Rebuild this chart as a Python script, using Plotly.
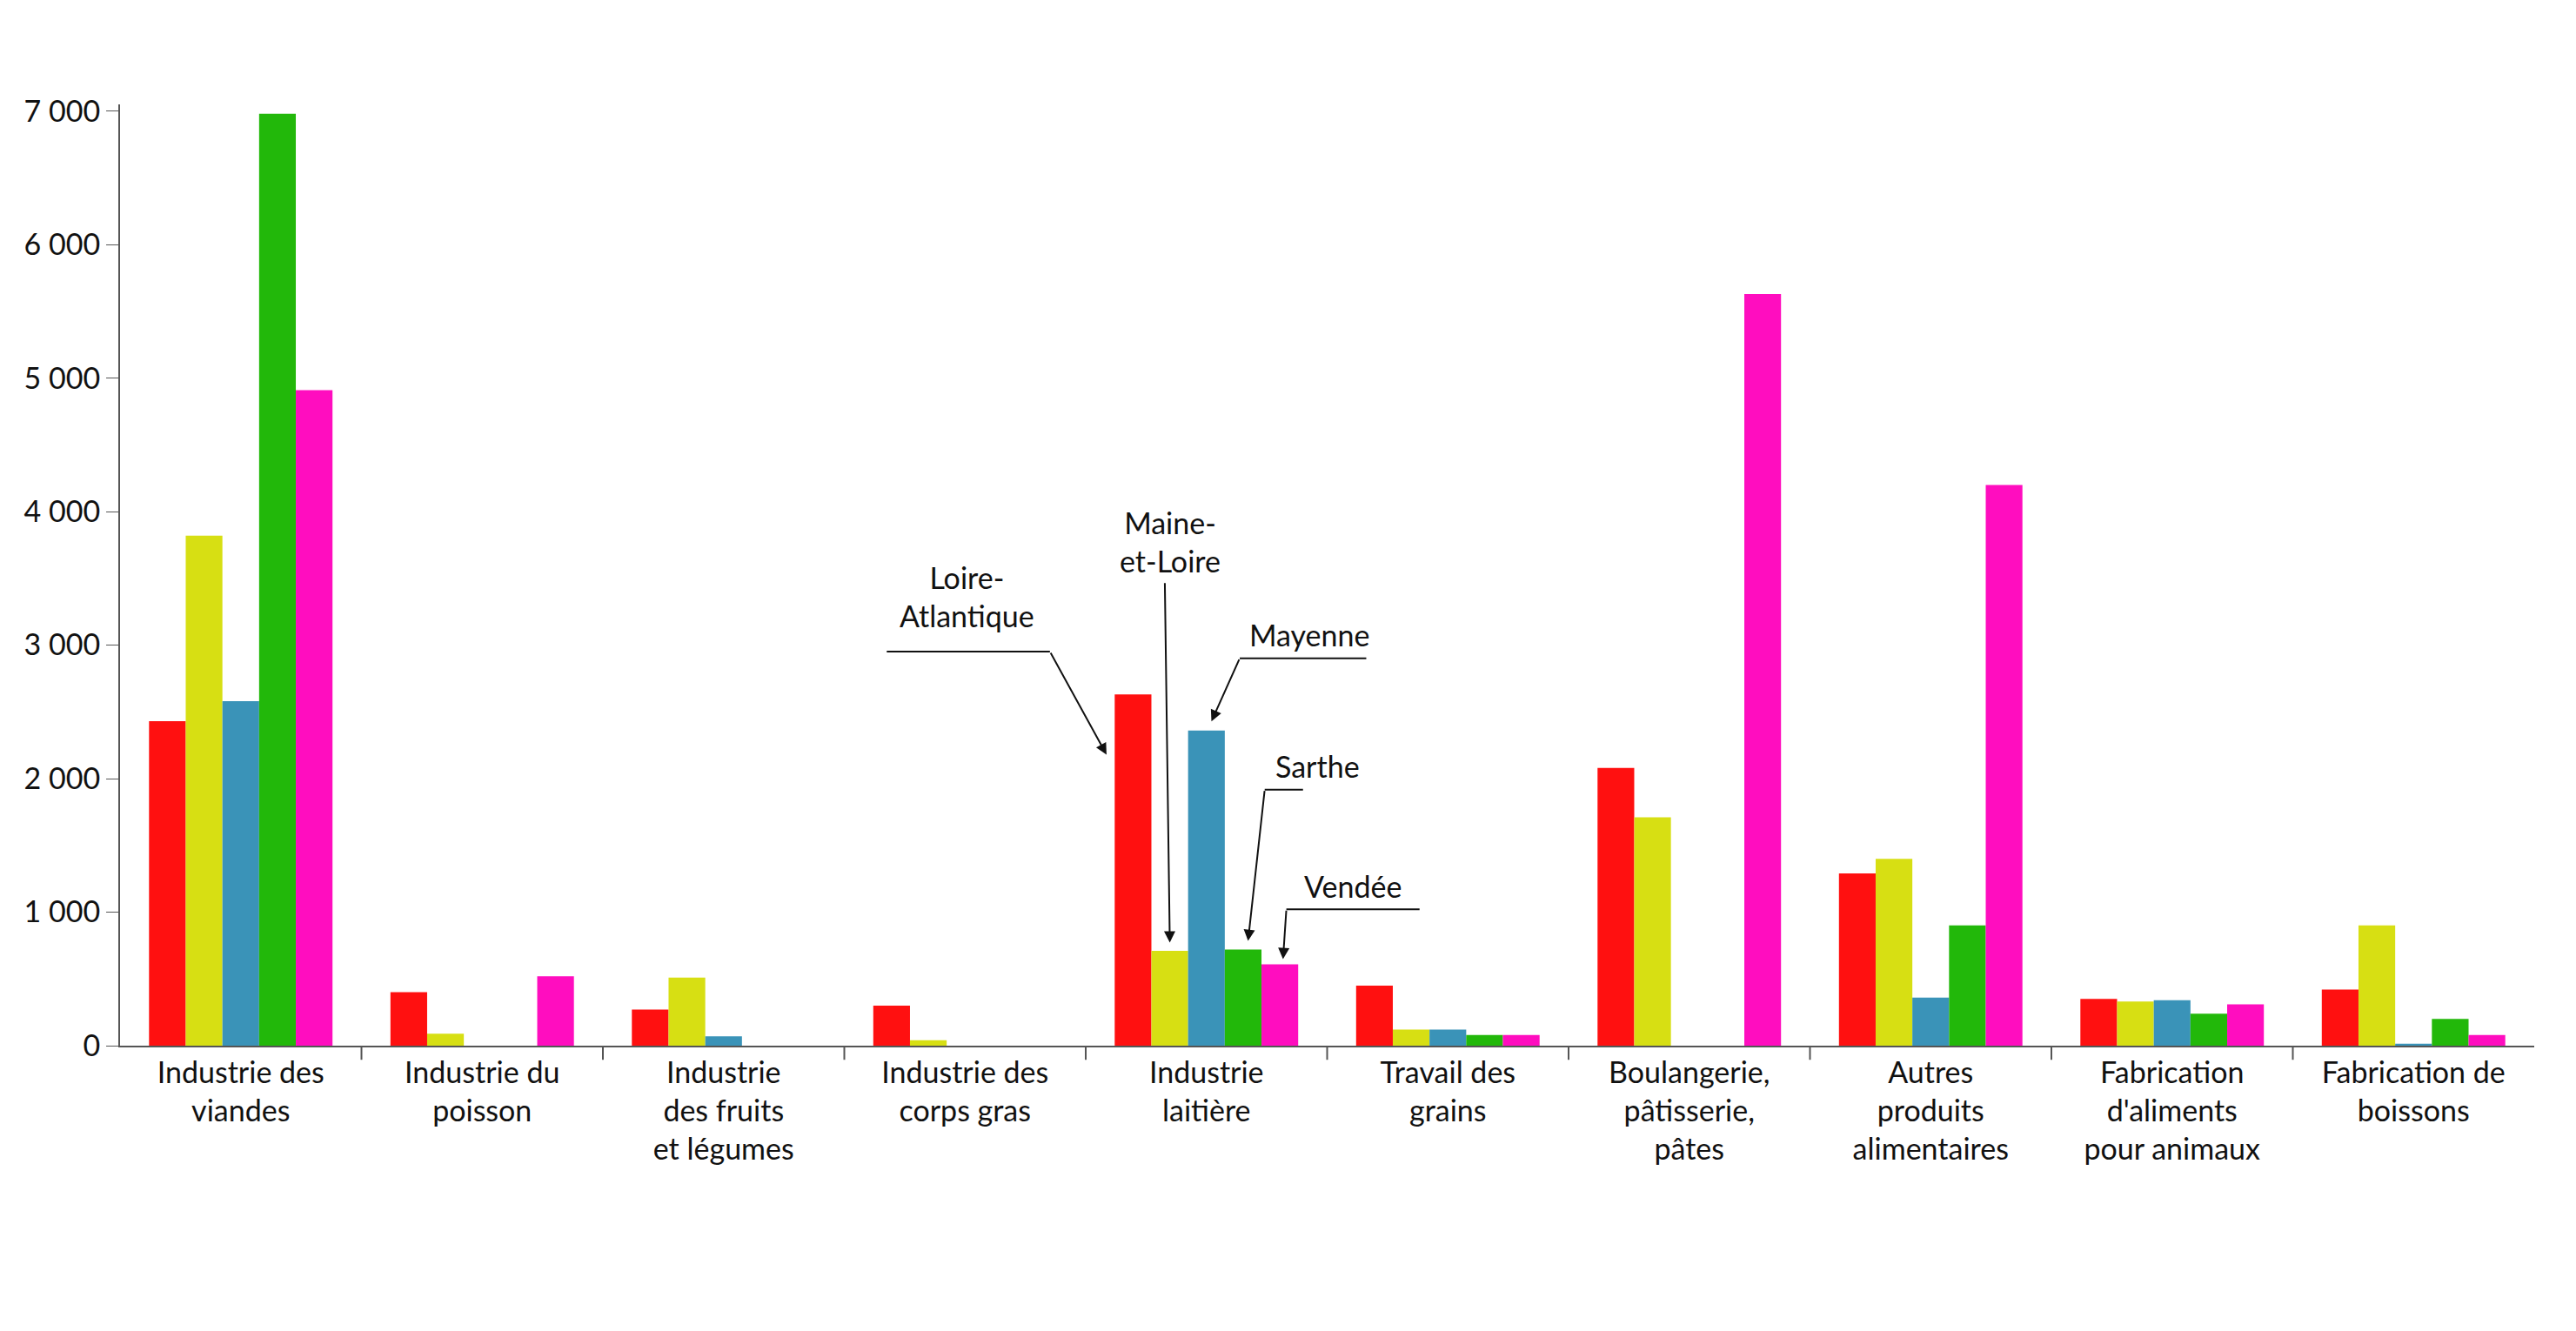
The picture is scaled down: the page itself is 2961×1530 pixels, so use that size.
import plotly.graph_objects as go

categories = ["Industrie des<br>viandes", "Industrie du<br>poisson", "Industrie<br>des fruits<br>et légumes",
              "Industrie des<br>corps gras", "Industrie<br>laitière", "Travail des<br>grains",
              "Boulangerie,<br>pâtisserie,<br>pâtes", "Autres<br>produits<br>alimentaires",
              "Fabrication<br>d'aliments<br>pour animaux", "Fabrication de<br>boissons"]
series = ["Loire-Atlantique", "Maine-et-Loire", "Mayenne", "Sarthe", "Vendée"]
colors = ["#FF1010", "#D7DF13", "#3A93B8", "#22B80A", "#FF0DBF"]
loire_atlantique = [2430, 400, 270, 300, 2630, 450, 2080, 1290, 350, 420]
maine_et_loire = [3820, 90, 510, 40, 710, 120, 1710, 1400, 330, 900]
mayenne = [2580, 0, 70, 0, 2360, 120, 0, 360, 340, 15]
sarthe = [6980, 0, 0, 0, 720, 80, 0, 900, 240, 200]
vendee = [4910, 520, 0, 0, 610, 80, 5630, 4200, 310, 80]
values = [loire_atlantique, maine_et_loire, mayenne, sarthe, vendee]

xs = list(range(len(categories)))
fig = go.Figure()
for name, col, v in zip(series, colors, values):
    fig.add_bar(x=xs, y=v, name=name, marker_color=col, marker_line_width=0)

def px2x(px): return (px - 142) / 145
def px2y(py): return (625 - py) / 80.3 * 1000

font = dict(family="Lato", size=34, color="#111")
anns = []
shapes = []
# labels: (text, tx, ty, line start(px), line end(px), arrow tip(px))
labels = [
    ("Loire-<br>Atlantique", 578, 355, (530, 388), (628, 388), (662, 450)),
    ("Maine-<br>et-Loire", 700, 322, None, (697, 346), (700, 563)),
    ("Mayenne", 784, 378, (818, 392), (742, 392), (725, 430)),
    ("Sarthe", 789, 457, (780, 471), (757, 471), (747, 562)),
    ("Vendée", 810, 529, (850, 543), (770, 543), (768, 573)),
]
for text, tx, ty, ls, le, tip in labels:
    anns.append(dict(x=px2x(tx), y=px2y(ty), xref="x", yref="y", text=text, showarrow=False, font=font))
    if ls:
        shapes.append(dict(type="line", xref="x", yref="y", x0=px2x(ls[0]), y0=px2y(ls[1]),
                           x1=px2x(le[0]), y1=px2y(le[1]), line=dict(color="#111", width=2)))
    anns.append(dict(x=px2x(tip[0]), y=px2y(tip[1]), ax=px2x(le[0]), ay=px2y(le[1]),
                     xref="x", yref="y", axref="x", ayref="y", text="", showarrow=True,
                     arrowhead=2, arrowsize=1.3, arrowwidth=2, arrowcolor="#111"))
for g in range(len(categories) - 1):
    shapes.append(dict(type="line", xref="x", yref="paper", x0=g + 0.5, x1=g + 0.5, y0=0, y1=-0.015,
                       line=dict(color="#555", width=2)))

fig.update_layout(
    width=2961, height=1530, barmode="group", bargap=0.24, bargroupgap=0,
    plot_bgcolor="white", paper_bgcolor="white", showlegend=False,
    margin=dict(l=130, r=56, t=112, b=336), separators=", ",
    font=font, annotations=anns, shapes=shapes,
    xaxis=dict(range=[-0.5, 9.5], tickvals=xs, ticktext=categories, ticks="", showline=True,
               linecolor="#555", linewidth=2, tickfont=dict(family="Lato", size=34, color="#111")),
    yaxis=dict(range=[0, 7050], tickvals=[0, 1000, 2000, 3000, 4000, 5000, 6000, 7000],
               tickformat=",d", showgrid=False, zeroline=False, showline=True, linecolor="#555",
               linewidth=2, ticks="outside", ticklen=14, tickcolor="#555",
               tickfont=dict(family="Lato", size=34, color="#111")),
)
fig.write_html("out.html")
